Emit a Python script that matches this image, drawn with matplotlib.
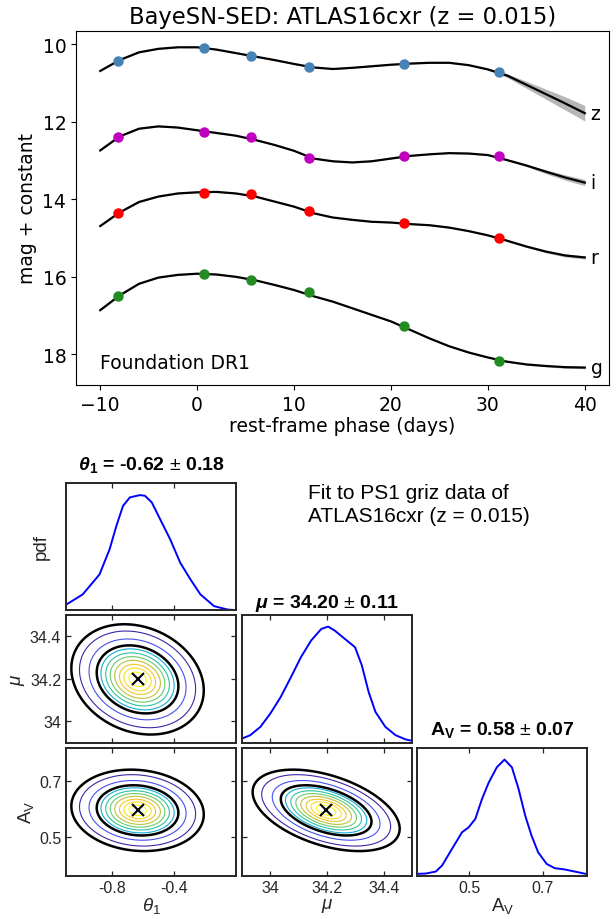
import numpy as np
import matplotlib.pyplot as plt
from matplotlib.colors import LinearSegmentedColormap

plt.rcParams['mathtext.fontset'] = 'custom'
plt.rcParams['mathtext.rm'] = 'Liberation Sans'
plt.rcParams['mathtext.it'] = 'Liberation Sans:italic'
plt.rcParams['mathtext.bf'] = 'Liberation Sans:bold'
plt.rcParams['mathtext.bfit'] = 'Liberation Sans:bold:italic'

# ---- light curves (model fit) ----
phase = [-10, -8, -6, -4, -2, 0, 2, 4, 6, 8, 10, 12, 14, 16, 18, 20,
         22, 24, 26, 28, 30, 32, 34, 36, 38, 40]
z_fit = [10.69, 10.41, 10.21, 10.12, 10.08, 10.08, 10.14, 10.23, 10.32, 10.41,
         10.51, 10.60, 10.64, 10.61, 10.57, 10.53, 10.50, 10.48, 10.48, 10.54,
         10.65, 10.81, 11.05, 11.29, 11.53, 11.78]
i_fit = [12.74, 12.38, 12.18, 12.12, 12.15, 12.22, 12.29, 12.36, 12.47, 12.60,
         12.75, 12.95, 13.02, 13.05, 13.02, 12.95, 12.88, 12.84, 12.81, 12.82,
         12.86, 12.99, 13.13, 13.29, 13.44, 13.57]
r_fit = [14.69, 14.34, 14.07, 13.93, 13.85, 13.82, 13.81, 13.85, 13.93, 14.06,
         14.19, 14.36, 14.47, 14.53, 14.58, 14.60, 14.64, 14.67, 14.73, 14.82,
         14.93, 15.07, 15.22, 15.35, 15.45, 15.50]
g_fit = [16.86, 16.48, 16.18, 16.02, 15.95, 15.92, 15.94, 16.00, 16.09, 16.21,
         16.34, 16.50, 16.64, 16.81, 16.98, 17.15, 17.37, 17.59, 17.79, 17.95,
         18.08, 18.19, 18.26, 18.30, 18.33, 18.34]
# half-width of the grey uncertainty band
z_err = [0.01] * 20 + [0.02, 0.05, 0.09, 0.13, 0.17, 0.20]
i_err = [0.01] * 21 + [0.02, 0.03, 0.05, 0.07, 0.08]
r_err = [0.01] * 21 + [0.02, 0.02, 0.03, 0.04, 0.04]
g_err = [0.01] * 22 + [0.02, 0.02, 0.03, 0.03]

obs_phase = [-8.2, 0.7, 5.6, 11.5, 21.3, 31.2]
z_obs = [10.43, 10.10, 10.30, 10.58, 10.50, 10.73]
i_obs = [12.40, 12.26, 12.39, 12.93, 12.89, 12.89]
r_obs = [14.36, 13.84, 13.86, 14.31, 14.62, 14.99]
g_obs = [16.50, 15.92, 16.07, 16.39, 17.27, 18.16]

bands = ['z', 'i', 'r', 'g']
band_colors = ['steelblue', 'm', 'r', 'forestgreen']

# ---- posterior (corner plot) ----
theta_x = [-1.105, -0.992, -0.883, -0.818, -0.774, -0.731, -0.687, -0.622, -0.589,
           -0.545, -0.491, -0.426, -0.361, -0.295, -0.23, -0.142, -0.055, 0.0]
theta_pdf = [0.043, 0.136, 0.309, 0.525, 0.727, 0.90, 0.973, 0.993, 0.987,
             0.93, 0.785, 0.612, 0.41, 0.266, 0.136, 0.035, 0.006, 0.0]
mu_x = [33.90, 33.929, 33.965, 34.0, 34.036, 34.072, 34.108, 34.144, 34.18, 34.204,
        34.227, 34.263, 34.299, 34.323, 34.347, 34.371, 34.406, 34.442, 34.478, 34.508]
mu_pdf = [0.034, 0.063, 0.135, 0.25, 0.39, 0.56, 0.736, 0.88, 0.98, 1.0,
          0.966, 0.894, 0.822, 0.665, 0.435, 0.264, 0.135, 0.063, 0.026, 0.011]
av_x = [0.3575, 0.383, 0.41, 0.427, 0.454, 0.481, 0.499, 0.517, 0.535, 0.553, 0.575,
        0.596, 0.616, 0.634, 0.652, 0.669, 0.687, 0.71, 0.732, 0.759, 0.786, 0.816]
av_pdf = [0.014, 0.017, 0.034, 0.086, 0.23, 0.373, 0.416, 0.488, 0.66, 0.80, 0.933,
          1.0, 0.933, 0.747, 0.517, 0.345, 0.20, 0.10, 0.063, 0.052, 0.034, 0.014]

mode = {'theta': -0.637, 'mu': 34.197, 'av': 0.595}
sd = {'theta': 0.175, 'mu': 0.106, 'av': 0.060}
rho = {('theta', 'mu'): -0.2, ('theta', 'av'): -0.1, ('mu', 'av'): -0.45}
lims = {'theta': (-1.1, 0.0), 'mu': (33.9, 34.5), 'av': (0.36, 0.82)}
ticks = {'theta': [-0.8, -0.4], 'mu': [34, 34.2, 34.4], 'av': [0.5, 0.7]}
ticklabels = {'theta': ['-0.8', '-0.4'], 'mu': ['34', '34.2', '34.4'], 'av': ['0.5', '0.7']}
labels = {'theta': r'$\theta_1$', 'mu': r'$\mu$', 'av': r'$\mathrm{A_V}$'}
titles = {'theta': r'$\mathbfit{\theta}_\mathbf{1}$ = -0.62 $\pm$ 0.18',
          'mu': r'$\mathbfit{\mu}$ = 34.20 $\pm$ 0.11',
          'av': r'$\mathbf{A_V}$ = 0.58 $\pm$ 0.07'}
title_pads = {'theta': 10, 'mu': 6, 'av': 10}

credible = [0.95, 0.68]
shade_levels = [0.1, 0.2, 0.4, 0.5, 0.6, 0.7, 0.8, 0.88, 0.95]

parula = LinearSegmentedColormap.from_list('parula', [
    (0.2422, 0.1504, 0.6603), (0.2810, 0.3228, 0.9578), (0.1540, 0.5902, 0.9218),
    (0.0600, 0.7000, 0.8200), (0.2161, 0.7843, 0.5923), (0.5044, 0.7993, 0.3480),
    (0.8667, 0.7397, 0.1636), (0.9955, 0.7861, 0.1963), (0.9769, 0.9839, 0.0805)])

fig = plt.figure(figsize=(6.16, 9.2), dpi=100)

# ================= light curves =================
ax = fig.add_axes([76 / 616, 1 - 386 / 920, 533 / 616, 354 / 920])
fits = [z_fit, i_fit, r_fit, g_fit]
errs = [z_err, i_err, r_err, g_err]
obs = [z_obs, i_obs, r_obs, g_obs]
for b, col, f, e, o in zip(bands, band_colors, fits, errs, obs):
    f = np.array(f)
    e = np.array(e)
    ax.fill_between(phase, f - e, f + e, color='0.6', alpha=0.7, lw=0, zorder=1)
    ax.plot(phase, f, color='k', lw=1.6, zorder=2, solid_joinstyle='round')
    ax.plot(obs_phase, o, 'o', color=col, ms=6.5, zorder=3)
    ax.text(40.6, f[-1], b, fontsize=13.5, va='center', ha='left')

ax.set_xlim(-12.5, 42.5)
ax.set_ylim(18.79, 9.66)
ax.set_xticks([-10, 0, 10, 20, 30, 40])
ax.set_yticks([10, 12, 14, 16, 18])
ax.tick_params(labelsize=13.5)
ax.set_xlabel('rest-frame phase (days)', fontsize=13.5, labelpad=2)
ax.set_ylabel('mag + constant', fontsize=13.5)
ax.set_title('BayeSN-SED: ATLAS16cxr (z = 0.015)', fontsize=16.3)
ax.text(-10, 18.2, 'Foundation DR1', fontsize=13.5, va='center')

# ================= corner plot =================
col_left = [66, 242, 417.3]
row_top = [483.7, 616, 749]
w_px, h_px = 170, 127.5
params = ['theta', 'mu', 'av']
dark = '#262626'


def make_ax(r, c):
    a = fig.add_axes([col_left[c] / 616, 1 - (row_top[r] + h_px) / 920,
                      w_px / 616, h_px / 920])
    for s in a.spines.values():
        s.set_linewidth(1.4)
        s.set_color(dark)
    a.tick_params(direction='in', top=True, right=True, length=3.5, width=0.9,
                  color=dark, labelcolor=dark, labelsize=11.5,
                  labelfontfamily='Liberation Sans')
    return a


pdfs = {'theta': (theta_x, theta_pdf), 'mu': (mu_x, mu_pdf), 'av': (av_x, av_pdf)}

for r, py in enumerate(params):
    for c, px in enumerate(params[:r + 1]):
        a = make_ax(r, c)
        a.set_xlim(lims[px])
        a.set_xticks(ticks[px])
        if r == 2:
            a.set_xticklabels(ticklabels[px])
            a.set_xlabel(labels[px], fontsize=13.5, color=dark, labelpad=0)
        else:
            a.set_xticklabels([])
        if c == r:
            xs, ys = pdfs[px]
            a.plot(xs, ys, color='b', lw=1.4, solid_joinstyle='round')
            a.set_ylim(0, 1.1)
            a.set_yticks([])
            a.set_title(titles[px], fontsize=14, fontweight='bold',
                        fontfamily='Liberation Sans', pad=title_pads[px])
            if c == 0:
                a.set_ylabel('pdf', fontsize=13.5, color=dark,
                             fontfamily='Liberation Sans', labelpad=12)
        else:
            a.set_ylim(lims[py])
            a.set_yticks(ticks[py])
            if c == 0:
                a.set_yticklabels(ticklabels[py])
                a.set_ylabel(labels[py], fontsize=13.5, color=dark, labelpad=2)
            else:
                a.set_yticklabels([])
            # 2-d posterior density from mode, widths and correlation
            x0, x1 = lims[px]
            y0, y1 = lims[py]
            gx = np.linspace(x0 - 0.3 * (x1 - x0), x1 + 0.3 * (x1 - x0), 300)
            gy = np.linspace(y0 - 0.3 * (y1 - y0), y1 + 0.3 * (y1 - y0), 300)
            X, Y = np.meshgrid(gx, gy)
            u = (X - mode[px]) / sd[px]
            v = (Y - mode[py]) / sd[py]
            p = rho[(px, py)]
            Z = np.exp(-(u ** 2 - 2 * p * u * v + v ** 2) / (2 * (1 - p ** 2)))
            cols = [parula((l - shade_levels[0]) / (shade_levels[-1] - shade_levels[0]))
                    for l in shade_levels]
            a.contour(X, Y, Z, levels=shade_levels, colors=cols, linewidths=0.8)
            a.contour(X, Y, Z, levels=sorted(1 - np.array(credible)),
                      colors='k', linewidths=1.8)
            a.plot(mode[px], mode[py], 'x', color='k', ms=8.5, mew=1.5)
            a.set_xlim(lims[px])
            a.set_ylim(lims[py])

fig.text(308 / 616, 1 - 484 / 920, 'Fit to PS1 griz data of\nATLAS16cxr (z = 0.015)',
         fontsize=15, fontfamily='Liberation Sans', va='top', ha='left',
         linespacing=1.25)

fig.savefig('out.png', dpi=100)
